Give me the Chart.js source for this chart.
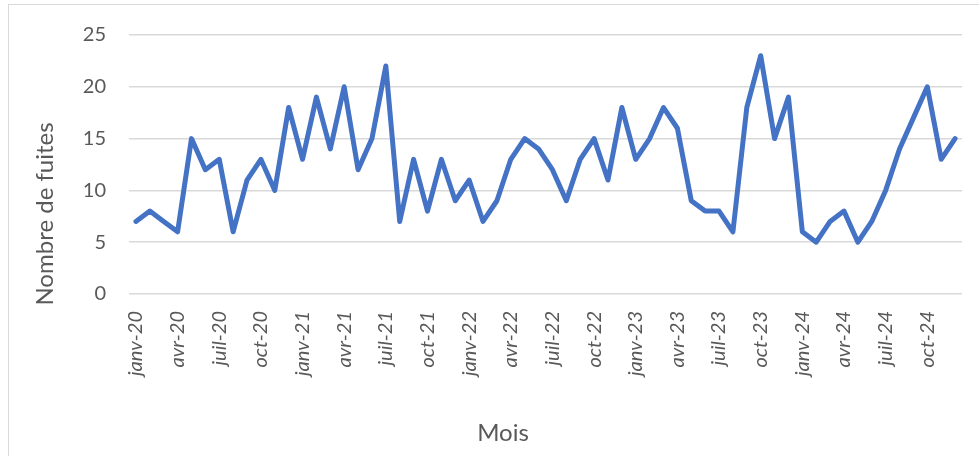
<!DOCTYPE html>
<html>
<head>
<meta charset="utf-8">
<script src="https://cdn.jsdelivr.net/npm/chart.js@4"></script>
<style>
  html, body { margin: 0; padding: 0; background: #fff; overflow: hidden; }
  #wrap { position: relative; width: 979px; height: 456px; }
  #frame { position: absolute; left: 8px; top: 4px; width: 1200px; height: 800px; border: 1.5px solid #d9d9d9; box-sizing: border-box; }
  canvas { position: absolute; left: 0; top: 0; }
</style>
</head>
<body>
<div id="wrap">
  <div id="frame"></div>
  <canvas id="chart" width="979" height="456"></canvas>
</div>
<script>
// mois (janv-20 -> déc-24)
const monthNames = ['janv', 'févr', 'mars', 'avr', 'mai', 'juin', 'juil', 'août', 'sept', 'oct', 'nov', 'déc'];
const years = ['20', '21', '22', '23', '24'];
const labels = [];
years.forEach(y => monthNames.forEach(m => labels.push(m + '-' + y)));

// nombre de fuites par mois
const fuites = [
  7, 8, 7, 6, 15, 12, 13, 6, 11, 13, 10, 18,
  13, 19, 14, 20, 12, 15, 22, 7, 13, 8, 13, 9,
  11, 7, 9, 13, 15, 14, 12, 9, 13, 15, 11, 18,
  13, 15, 18, 16, 9, 8, 8, 6, 18, 23, 15, 19,
  6, 5, 7, 8, 5, 7, 10, 14, 17, 20, 13, 15
];

const yTicks = [0, 5, 10, 15, 20, 25];
const xTitle = 'Mois';
const yTitle = 'Nombre de fuites';

const grey = '#595959';

// axis titles placed like the Excel original (not centred on the plot)
const axisTitles = {
  id: 'axisTitles',
  afterDraw(chart) {
    const c = chart.ctx;
    c.save();
    c.fillStyle = grey;
    c.font = '24px Lato';
    c.textAlign = 'center';
    c.textBaseline = 'middle';
    c.fillText(xTitle, 503, 433);
    c.translate(45, 214);
    c.rotate(-Math.PI / 2);
    c.fillText(yTitle, 0, 0);
    c.restore();
  }
};

const ctx = document.getElementById('chart').getContext('2d');

new Chart(ctx, {
  type: 'line',
  data: {
    labels: labels,
    datasets: [{
      data: fuites,
      borderColor: '#4472C4',
      borderWidth: 5,
      borderJoinStyle: 'round',
      borderCapStyle: 'round',
      pointRadius: 0,
      tension: 0,
      fill: false
    }]
  },
  options: {
    responsive: false,
    animation: false,
    layout: { padding: { top: 33, right: 17, bottom: 0, left: 0 } },
    plugins: { legend: { display: false }, tooltip: { enabled: false } },
    scales: {
      x: {
        offset: true,
        grid: { display: false },
        border: { display: false },
        ticks: {
          autoSkip: false,
          minRotation: 90,
          maxRotation: 90,
          padding: 9,
          color: grey,
          font: { family: 'Lato', size: 20, style: 'italic' },
          callback: function (val, i) { return i % 3 === 0 ? labels[i] : ''; }
        },
        afterFit: function (scale) {
          scale.height = 162;
          scale.paddingLeft = 0;
          scale.paddingRight = 0;
        }
      },
      y: {
        min: 0,
        max: 25,
        afterBuildTicks: function (scale) { scale.ticks = yTicks.map(v => ({ value: v })); },
        grid: { color: '#d9d9d9', lineWidth: 1.5, drawTicks: false },
        border: { display: false },
        ticks: {
          padding: 23,
          color: grey,
          font: { family: 'Lato', size: 20 }
        },
        afterFit: function (scale) { scale.width = 129; }
      }
    }
  },
  plugins: [axisTitles]
});
</script>
</body>
</html>
